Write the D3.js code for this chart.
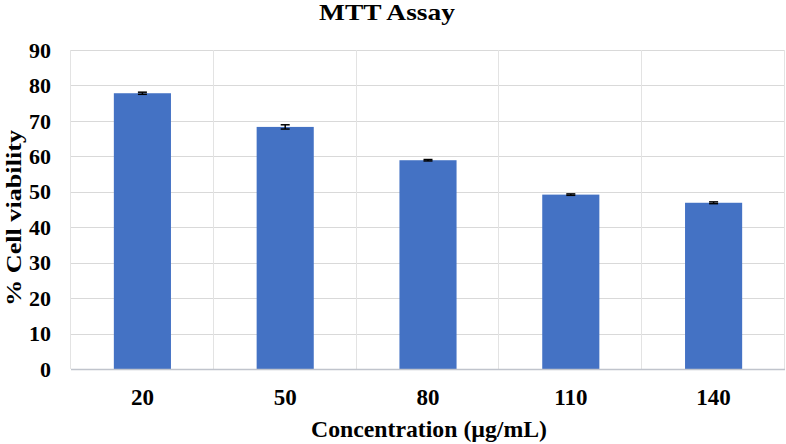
<!DOCTYPE html>
<html><head><meta charset="utf-8">
<script src="https://cdn.jsdelivr.net/npm/d3@7"></script>
<style>body{margin:0;background:#fff}svg{display:block}text{font-family:"Liberation Serif","Times New Roman",serif;font-weight:bold;fill:#000}</style>
</head><body><svg id="c" width="786" height="444"></svg>
<script>
const categories = ["20","50","80","110","140"];
const values = [77.8, 68.3, 58.9, 49.2, 46.9];
const errors = [0.3, 0.6, 0.2, 0.2, 0.25];
const yTicks = [0,10,20,30,40,50,60,70,80,90];

const svg = d3.select("#c");
const m = {l:71, r:1, t:50, b:75};
const W = 786, H = 444;
const x = d3.scaleBand().domain(categories).range([m.l, W - m.r]).padding(0);
const y = d3.scaleLinear().domain([0, 90]).range([H - m.b, m.t]);

// horizontal grid
svg.append("g").selectAll("line").data(yTicks).join("line")
  .attr("x1", m.l).attr("x2", W - m.r)
  .attr("y1", d => Math.round(y(d)) + 0.5).attr("y2", d => Math.round(y(d)) + 0.5)
  .attr("stroke", "#d9d9d9").attr("stroke-width", 1);
// vertical grid
const bounds = categories.map(c => x(c)).concat([x(categories[categories.length-1]) + x.bandwidth()]);
svg.append("g").selectAll("line").data(bounds).join("line")
  .attr("x1", d => Math.round(d) - 0.5).attr("x2", d => Math.round(d) - 0.5)
  .attr("y1", m.t).attr("y2", y(0))
  .attr("stroke", "#e3e3e3").attr("stroke-width", 1);

// bars
const bw = x.bandwidth() * 0.4;
svg.append("g").selectAll("rect").data(values).join("rect")
  .attr("x", (d,i) => x(categories[i]) + (x.bandwidth() - bw) / 2)
  .attr("width", bw)
  .attr("y", d => y(d))
  .attr("height", d => y(0) - y(d))
  .attr("fill", "#4472c4");

// bottom axis line
svg.append("line").attr("x1", m.l).attr("x2", W - m.r)
  .attr("y1", Math.round(y(0)) + 0.5).attr("y2", Math.round(y(0)) + 0.5)
  .attr("stroke", "#c0c4cc").attr("stroke-width", 1.5);

// error bars
const eg = svg.append("g").attr("stroke", "#000").attr("stroke-width", 1.5);
values.forEach((v, i) => {
  const cx = x(categories[i]) + x.bandwidth() / 2;
  const y1 = y(v + errors[i]), y2 = y(v - errors[i]);
  eg.append("line").attr("x1", cx).attr("x2", cx).attr("y1", y1).attr("y2", y2);
  eg.append("line").attr("x1", cx - 4.5).attr("x2", cx + 4.5).attr("y1", y1).attr("y2", y1);
  eg.append("line").attr("x1", cx - 4.5).attr("x2", cx + 4.5).attr("y1", y2).attr("y2", y2);
});

// y tick labels
svg.append("g").selectAll("text").data(yTicks).join("text")
  .attr("x", 51).attr("y", d => y(d)).attr("dy", "0.35em")
  .attr("text-anchor", "end").attr("font-size", 22).text(d => d);

// x tick labels
svg.append("g").selectAll("text").data(categories).join("text")
  .attr("x", d => x(d) + x.bandwidth() / 2).attr("y", 405)
  .attr("text-anchor", "middle").attr("font-size", 23).text(d => d);

// titles
svg.append("text").attr("x", 387).attr("y", 19.5).attr("text-anchor", "middle")
  .attr("font-size", 24).attr("textLength", 136).attr("lengthAdjust", "spacingAndGlyphs").text("MTT Assay");
svg.append("text").attr("x", 429).attr("y", 437).attr("text-anchor", "middle")
  .attr("font-size", 24).attr("textLength", 236).attr("lengthAdjust", "spacingAndGlyphs").text("Concentration (µg/mL)");
svg.append("text").attr("transform", "translate(21,218) rotate(-90)")
  .attr("text-anchor", "middle").attr("font-size", 22).attr("textLength", 176).attr("lengthAdjust", "spacingAndGlyphs").text("% Cell viability");
</script></body></html>
